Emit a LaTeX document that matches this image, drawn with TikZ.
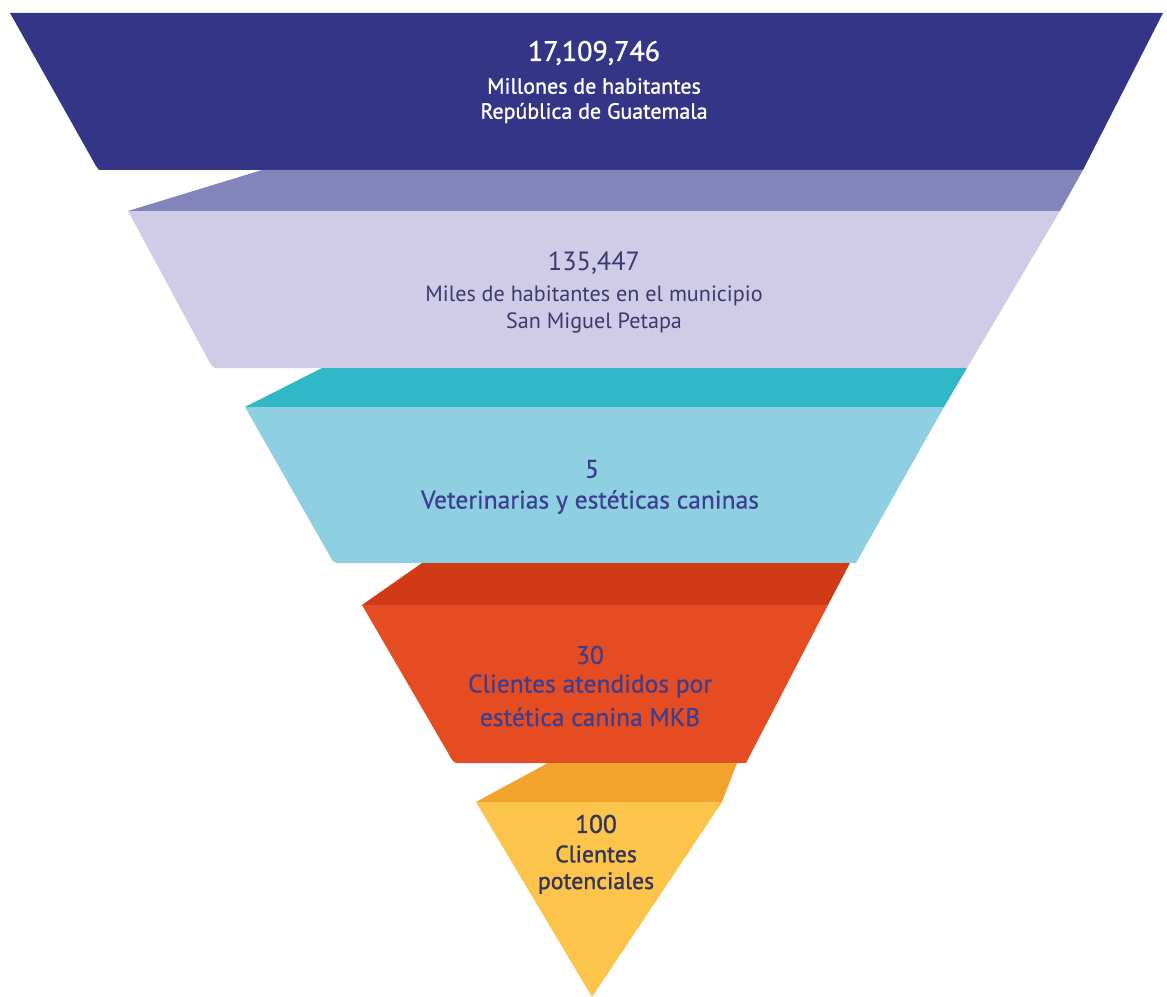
\documentclass[tikz,border=0pt]{standalone}
\usepackage{fontspec}
\setmainfont{PT Sans}
\newfontfamily\semifont[FakeBold=1.2]{PT Sans}
\newfontfamily\midfont[FakeBold=0.6]{PT Sans}

\definecolor{navy}{HTML}{343587}
\definecolor{lavtop}{HTML}{8484BD}
\definecolor{lav}{HTML}{D0CCE8}
\definecolor{tealtop}{HTML}{30B8C8}
\definecolor{teal}{HTML}{8ED0E1}
\definecolor{redtop}{HTML}{D03A17}
\definecolor{red}{HTML}{E64C21}
\definecolor{orgtop}{HTML}{F2A32C}
\definecolor{yel}{HTML}{FCC44B}
\definecolor{inkA}{HTML}{3A3A6C}
\definecolor{inkB}{HTML}{3C3E90}
\definecolor{inkC}{HTML}{33345A}

\begin{document}
\begin{tikzpicture}[x=0.02cm,y=-0.02cm]
        \useasboundingbox (0,0) rectangle (1167,997);

        % Bandas del embudo
        \fill[navy] (10,13) -- (1163,13) -- (1083,170) -- (99,170) to[bend right=20] (96,166) -- cycle;
        \fill[lavtop] (262,170) -- (1083,170) -- (1060,211) -- (128,211) -- cycle;
        \fill[lav] (128,211) -- (1060,211) -- (967,368) -- (215,368) to[bend left=20] (210,363) -- cycle;
        \fill[tealtop] (322,368) -- (967,368) -- (944,407) -- (245,407) -- cycle;
        \fill[teal] (245,407) -- (944,407) -- (856,563) -- (336,563) to[bend left=20] (331,558) -- cycle;
        \fill[redtop] (422,563) -- (850,563) -- (828,605) -- (362,605) -- cycle;
        \fill[red] (362,605) -- (828,605) -- (746,763) -- (456,763) to[bend left=20] (451,758) -- cycle;
        \fill[orgtop] (548,763) -- (737,763) -- (722,802) -- (476,802) -- cycle;
        \fill[yel] (476,802) -- (722,802) -- (592,997) -- cycle;

        % Textos
        \node[white, font=\semifont\fontsize{16}{16}\selectfont] (hab) at (594,53) {17,109,746};
        \node[white, font=\semifont\fontsize{12.5}{13}\selectfont] (habA) at (594,86) {Millones de habitantes};
        \node[white, font=\semifont\fontsize{12.5}{13}\selectfont] (habB) at (594,113) {República de Guatemala};

        \node[inkA, font=\fontsize{15}{15}\selectfont] (mun) at (594,263) {135,447};
        \node[inkA, font=\fontsize{12.6}{13}\selectfont] (munA) at (594,296) {Miles de habitantes en el municipio};
        \node[inkA, font=\fontsize{12.6}{13}\selectfont] (munB) at (594,323) {San Miguel Petapa};

        \node[inkB, font=\midfont\fontsize{14.5}{15}\selectfont] (vet) at (592,469) {5};
        \node[inkB, font=\midfont\fontsize{14.5}{15}\selectfont] (vetA) at (590,502) {Veterinarias y estéticas caninas};

        \node[inkB, font=\midfont\fontsize{14.5}{15}\selectfont] (cli) at (590,655) {30};
        \node[inkB, font=\midfont\fontsize{14.5}{15}\selectfont] (cliA) at (590,686) {Clientes atendidos por};
        \node[inkB, font=\midfont\fontsize{14.5}{15}\selectfont] (cliB) at (590,717) {estética canina MKB};

        \node[inkC, font=\semifont\fontsize{14.5}{15}\selectfont] (pot) at (596,824) {100};
        \node[inkC, font=\semifont\fontsize{13.5}{14}\selectfont] (potA) at (596,854) {Clientes};
        \node[inkC, font=\semifont\fontsize{13.5}{14}\selectfont] (potB) at (596,883) {potenciales};
    \end{tikzpicture}
\end{document}
